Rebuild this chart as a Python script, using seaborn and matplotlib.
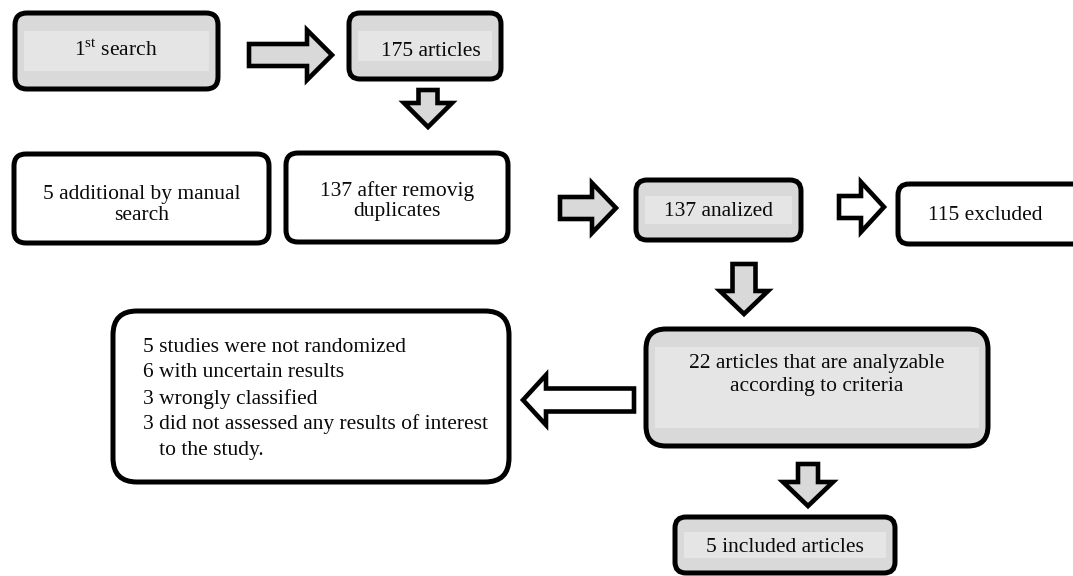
import matplotlib
matplotlib.use("Agg")
import matplotlib.pyplot as plt
from matplotlib.patches import FancyBboxPatch, Polygon, Rectangle
import seaborn as sns

sns.set_theme(style="white")
plt.rcParams['font.family'] = ['Liberation Serif', 'DejaVu Serif']
plt.rcParams['mathtext.fontset'] = 'custom'
plt.rcParams['mathtext.rm'] = 'Liberation Serif'

# ---------------- data (texts of the flow diagram) ----------------
box_labels = [
    r"1$^{\mathrm{st}}$ search",
    "175 articles",
    "5 additional by manual\nsearch",
    "137 after removig\nduplicates",
    "137 analized",
    "115 excluded",
    "22 articles that are analyzable\naccording to criteria",
    "5 included articles",
]
exclusion_reasons = [
    "5 studies were not randomized",
    "6 with uncertain results",
    "3 wrongly classified",
    "3 did not assessed any results of interest",
    "   to the study.",
]

# ---------------- layout (pixel space, y downward) ----------------
# x0, y0, x1, y1, shaded, corner radius, text x, text y, line spacing
box_layout = [
    (15, 13, 218, 89, True, 12, 116, 50, 1.1),
    (349, 13, 501, 79, True, 11, 431, 52, 1.1),
    (14, 154, 269, 243, False, 12, 142, 205, 1.1),
    (286, 153, 508, 242, False, 12, 397, 201, 1.1),
    (636, 180, 801, 240, True, 11, 718, 212, 1.1),
    (898, 184, 1095, 244, False, 11, 985, 215, 1.1),
    (646, 329, 988, 446, True, 20, 817, 375, 1.28),
    (675, 517, 895, 573, True, 11, 785, 547, 1.1),
]
reason_box = (113, 311, 509, 482, 24)
reason_text_x, reason_text_y0, reason_line_step = 143, 347, 25.8

# tail(x,y), tip(x,y), shaft width, head width, head length, shaded
arrow_layout = [
    ((249, 55), (332, 55), 22, 50, 25, True),
    ((428, 90), (428, 127), 19, 48, 24, True),
    ((560, 208), (616, 208), 22, 50, 24, True),
    ((839, 207), (884, 207), 22, 50, 23, False),
    ((744, 264), (744, 314), 23, 48, 23, True),
    ((634, 400), (523, 400), 23, 50, 23, False),
    ((808, 464), (808, 506), 20, 50, 24, True),
]

EDGE = "#000000"
GRAY = "#d9d9d9"
LIGHT = "#e5e5e5"
FS = 15.5

fig = plt.figure(figsize=(10.73, 5.76), dpi=100)
ax = fig.add_axes([0, 0, 1, 1])
ax.set_xlim(0, 1073)
ax.set_ylim(576, 0)
ax.axis("off")


def draw_box(x0, y0, x1, y1, shaded, r):
    fill = GRAY if shaded else "white"
    ax.add_patch(FancyBboxPatch((x0 + r, y0 + r), (x1 - x0) - 2 * r, (y1 - y0) - 2 * r,
                                boxstyle=f"round,pad={r}", facecolor=fill,
                                edgecolor="none", zorder=1))
    if shaded:
        h = y1 - y0
        inset = min(18, h * 0.27)
        ax.add_patch(Rectangle((x0 + 9, y0 + inset), (x1 - x0) - 18, h - 2 * inset,
                               facecolor=LIGHT, edgecolor="none", zorder=2))
    ax.add_patch(FancyBboxPatch((x0 + r, y0 + r), (x1 - x0) - 2 * r, (y1 - y0) - 2 * r,
                                boxstyle=f"round,pad={r}", facecolor="none",
                                edgecolor=EDGE, linewidth=3.6, zorder=3))


def draw_arrow(tail, tip, sw, hw, hl, shaded):
    (tx, ty), (px, py) = tail, tip
    dx, dy = px - tx, py - ty
    L = (dx ** 2 + dy ** 2) ** 0.5
    ux, uy = dx / L, dy / L
    nx, ny = -uy, ux
    bx, by = px - ux * hl, py - uy * hl
    pts = [
        (tx + nx * sw / 2, ty + ny * sw / 2),
        (bx + nx * sw / 2, by + ny * sw / 2),
        (bx + nx * hw / 2, by + ny * hw / 2),
        (px, py),
        (bx - nx * hw / 2, by - ny * hw / 2),
        (bx - nx * sw / 2, by - ny * sw / 2),
        (tx - nx * sw / 2, ty - ny * sw / 2),
    ]
    ax.add_patch(Polygon(pts, closed=True, facecolor=GRAY if shaded else "white",
                         edgecolor=EDGE, linewidth=3.3, joinstyle="miter", zorder=4))


for label, (x0, y0, x1, y1, shaded, r, tx, ty, ls) in zip(box_labels, box_layout):
    draw_box(x0, y0, x1, y1, shaded, r)
    ax.text(tx, ty, label, ha="center", va="center", multialignment="center",
            fontsize=FS, color="#0a0a0a", linespacing=ls, zorder=5)

rx0, ry0, rx1, ry1, rr = reason_box
draw_box(rx0, ry0, rx1, ry1, False, rr)
for i, line in enumerate(exclusion_reasons):
    ax.text(reason_text_x, reason_text_y0 + i * reason_line_step, line,
            ha="left", va="center", fontsize=FS, color="#0a0a0a", zorder=5)

for tail, tip, sw, hw, hl, shaded in arrow_layout:
    draw_arrow(tail, tip, sw, hw, hl, shaded)

fig.savefig("out.png", dpi=100, facecolor="white")
